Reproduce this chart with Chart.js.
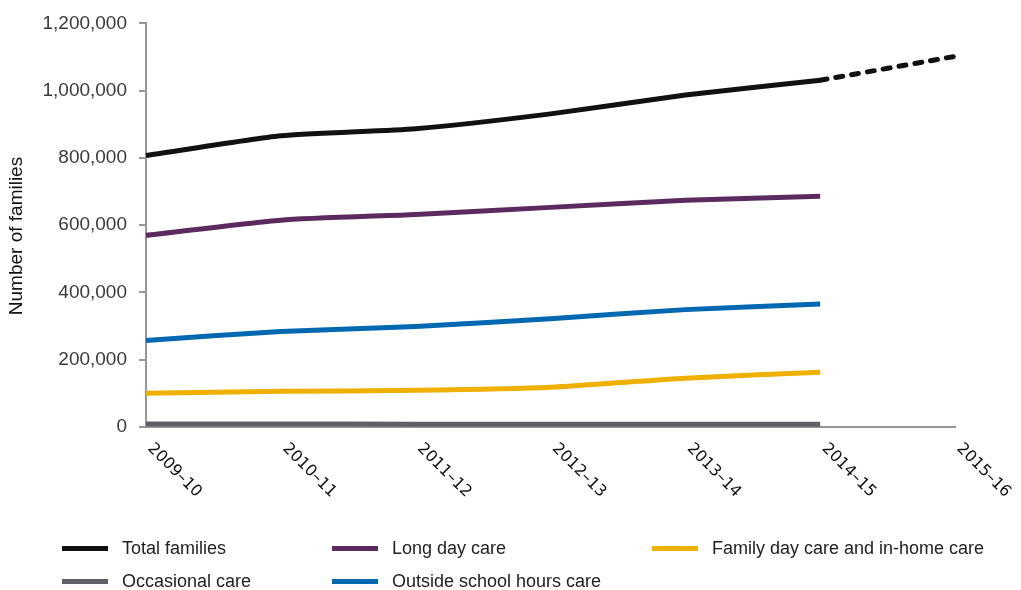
<!DOCTYPE html>
<html>
<head>
<meta charset="utf-8">
<script src="https://cdn.jsdelivr.net/npm/chart.js@4/dist/chart.umd.min.js"></script>
<style>
  body { margin: 0; background: #fff; }
  #wrap { position: relative; width: 1021px; height: 590px; }
  #box { position: absolute; left: 0; top: 0; width: 1021px; height: 520px; }
  #legend { position: absolute; left: 0; top: 0; width: 1021px; height: 590px; pointer-events: none;
            font-family: "Liberation Sans", Arial, sans-serif; font-size: 18px; color: #222; }
  .item { position: absolute; display: flex; align-items: center; white-space: nowrap; }
  .swatch { width: 46px; height: 5px; margin-right: 14px; }
</style>
</head>
<body>
<div id="wrap">
  <div id="box"><canvas id="lineChart"></canvas></div>
  <div id="legend"></div>
</div>
<script>
let years = ["2009–10", "2010–11", "2011–12", "2012–13", "2013–14", "2014–15", "2015–16"];
let yTicks = [0, 200000, 400000, 600000, 800000, 1000000, 1200000];

let totalFamilies = [807000, 866000, 887000, 931000, 987000, 1031000, null];
let totalProjected = [null, null, null, null, null, 1031000, 1102000];
let longDayCare = [570000, 615000, 632000, 653000, 674000, 686000, null];
let familyDayCare = [100500, 106000, 109000, 118000, 145000, 163000, null];
let occasionalCare = [9000, 9000, 8500, 8500, 8500, 8500, null];
let outsideSchool = [257000, 284000, 298500, 322000, 349000, 366000, null];

let colours = {
    total: "#111111",
    longDay: "#5b2a5e",
    familyDay: "#efb000",
    occasional: "#5e6066",
    oshc: "#0067b1"
};

// legend laid out in three columns under the chart
let legendItems = [
    ["Total families", colours.total, 62, 548],
    ["Long day care", colours.longDay, 332, 548],
    ["Family day care and in-home care", colours.familyDay, 652, 548],
    ["Occasional care", colours.occasional, 62, 581],
    ["Outside school hours care", colours.oshc, 332, 581]
];
let legendBox = document.getElementById("legend");
legendItems.forEach(([label, col, x, y]) => {
    let d = document.createElement("div");
    d.className = "item";
    d.style.left = x + "px";
    d.style.top = (y - 12) + "px";
    d.style.height = "24px";
    d.innerHTML = `<span class="swatch" style="background:${col}"></span><span>${label}</span>`;
    legendBox.appendChild(d);
});

function line(label, data, col, dash) {
    return {
        label: label,
        data: data,
        borderColor: col,
        backgroundColor: col,
        borderWidth: 5,
        borderDash: dash || [],
        borderCapStyle: dash ? "round" : "butt",
        pointRadius: 0,
        tension: 0.2,
        spanGaps: false,
        clip: false
    };
}

// x labels run down to the right from each category, plus the y title
let axisText = {
    id: "axisText",
    afterDraw(chart) {
        let ctx = chart.ctx;
        let x = chart.scales.x;
        let y0 = chart.chartArea.bottom;
        ctx.save();
        ctx.font = "16px 'DejaVu Sans'";
        ctx.fillStyle = "#111";
        ctx.textAlign = "left";
        ctx.textBaseline = "middle";
        years.forEach((yr, i) => {
            let px = x.getPixelForValue(i);
            ctx.save();
            ctx.translate(px + 4, y0 + 19);
            ctx.rotate(Math.PI / 4);
            ctx.fillText(yr, 0, 0);
            ctx.restore();
        });

        ctx.font = "19px 'Liberation Sans', Arial, sans-serif";
        ctx.textAlign = "center";
        ctx.translate(17, 236);
        ctx.rotate(-Math.PI / 2);
        ctx.fillText("Number of families", 0, 0);
        ctx.restore();
    }
};

let ctx = document.getElementById("lineChart").getContext("2d");
let chart = new Chart(ctx, {
    type: "line",
    data: {
        labels: years,
        datasets: [
            line("Occasional care", occasionalCare, colours.occasional),
            line("Family day care and in-home care", familyDayCare, colours.familyDay),
            line("Outside school hours care", outsideSchool, colours.oshc),
            line("Long day care", longDayCare, colours.longDay),
            line("Total families", totalFamilies, colours.total),
            line("Total families (projected)", totalProjected, colours.total, [7, 9])
        ]
    },
    options: {
        responsive: true,
        maintainAspectRatio: false,
        animation: false,
        layout: { padding: { top: 17, right: 66, left: 0, bottom: 0 } },
        plugins: {
            legend: { display: false },
            tooltip: { enabled: false }
        },
        scales: {
            x: {
                offset: false,
                grid: { display: false },
                border: { display: true, color: "#9a9896", width: 2 },
                ticks: { display: false },
                afterFit(scale) { scale.height = 93; }
            },
            y: {
                min: 0,
                max: 1200000,
                afterBuildTicks(scale) { scale.ticks = yTicks.map(v => ({ value: v })); },
                grid: { drawOnChartArea: false, drawTicks: true, tickLength: 7, color: "#9a9896", lineWidth: 2 },
                border: { display: true, color: "#9a9896", width: 2 },
                ticks: {
                    padding: 12,
                    color: "#3a3a3a",
                    font: { family: "'Liberation Sans', Arial, sans-serif", size: 19 },
                    callback: v => v.toLocaleString("en-US")
                },
                afterFit(scale) { scale.width = 146; }
            }
        }
    },
    plugins: [axisText]
});
</script>
</body>
</html>
